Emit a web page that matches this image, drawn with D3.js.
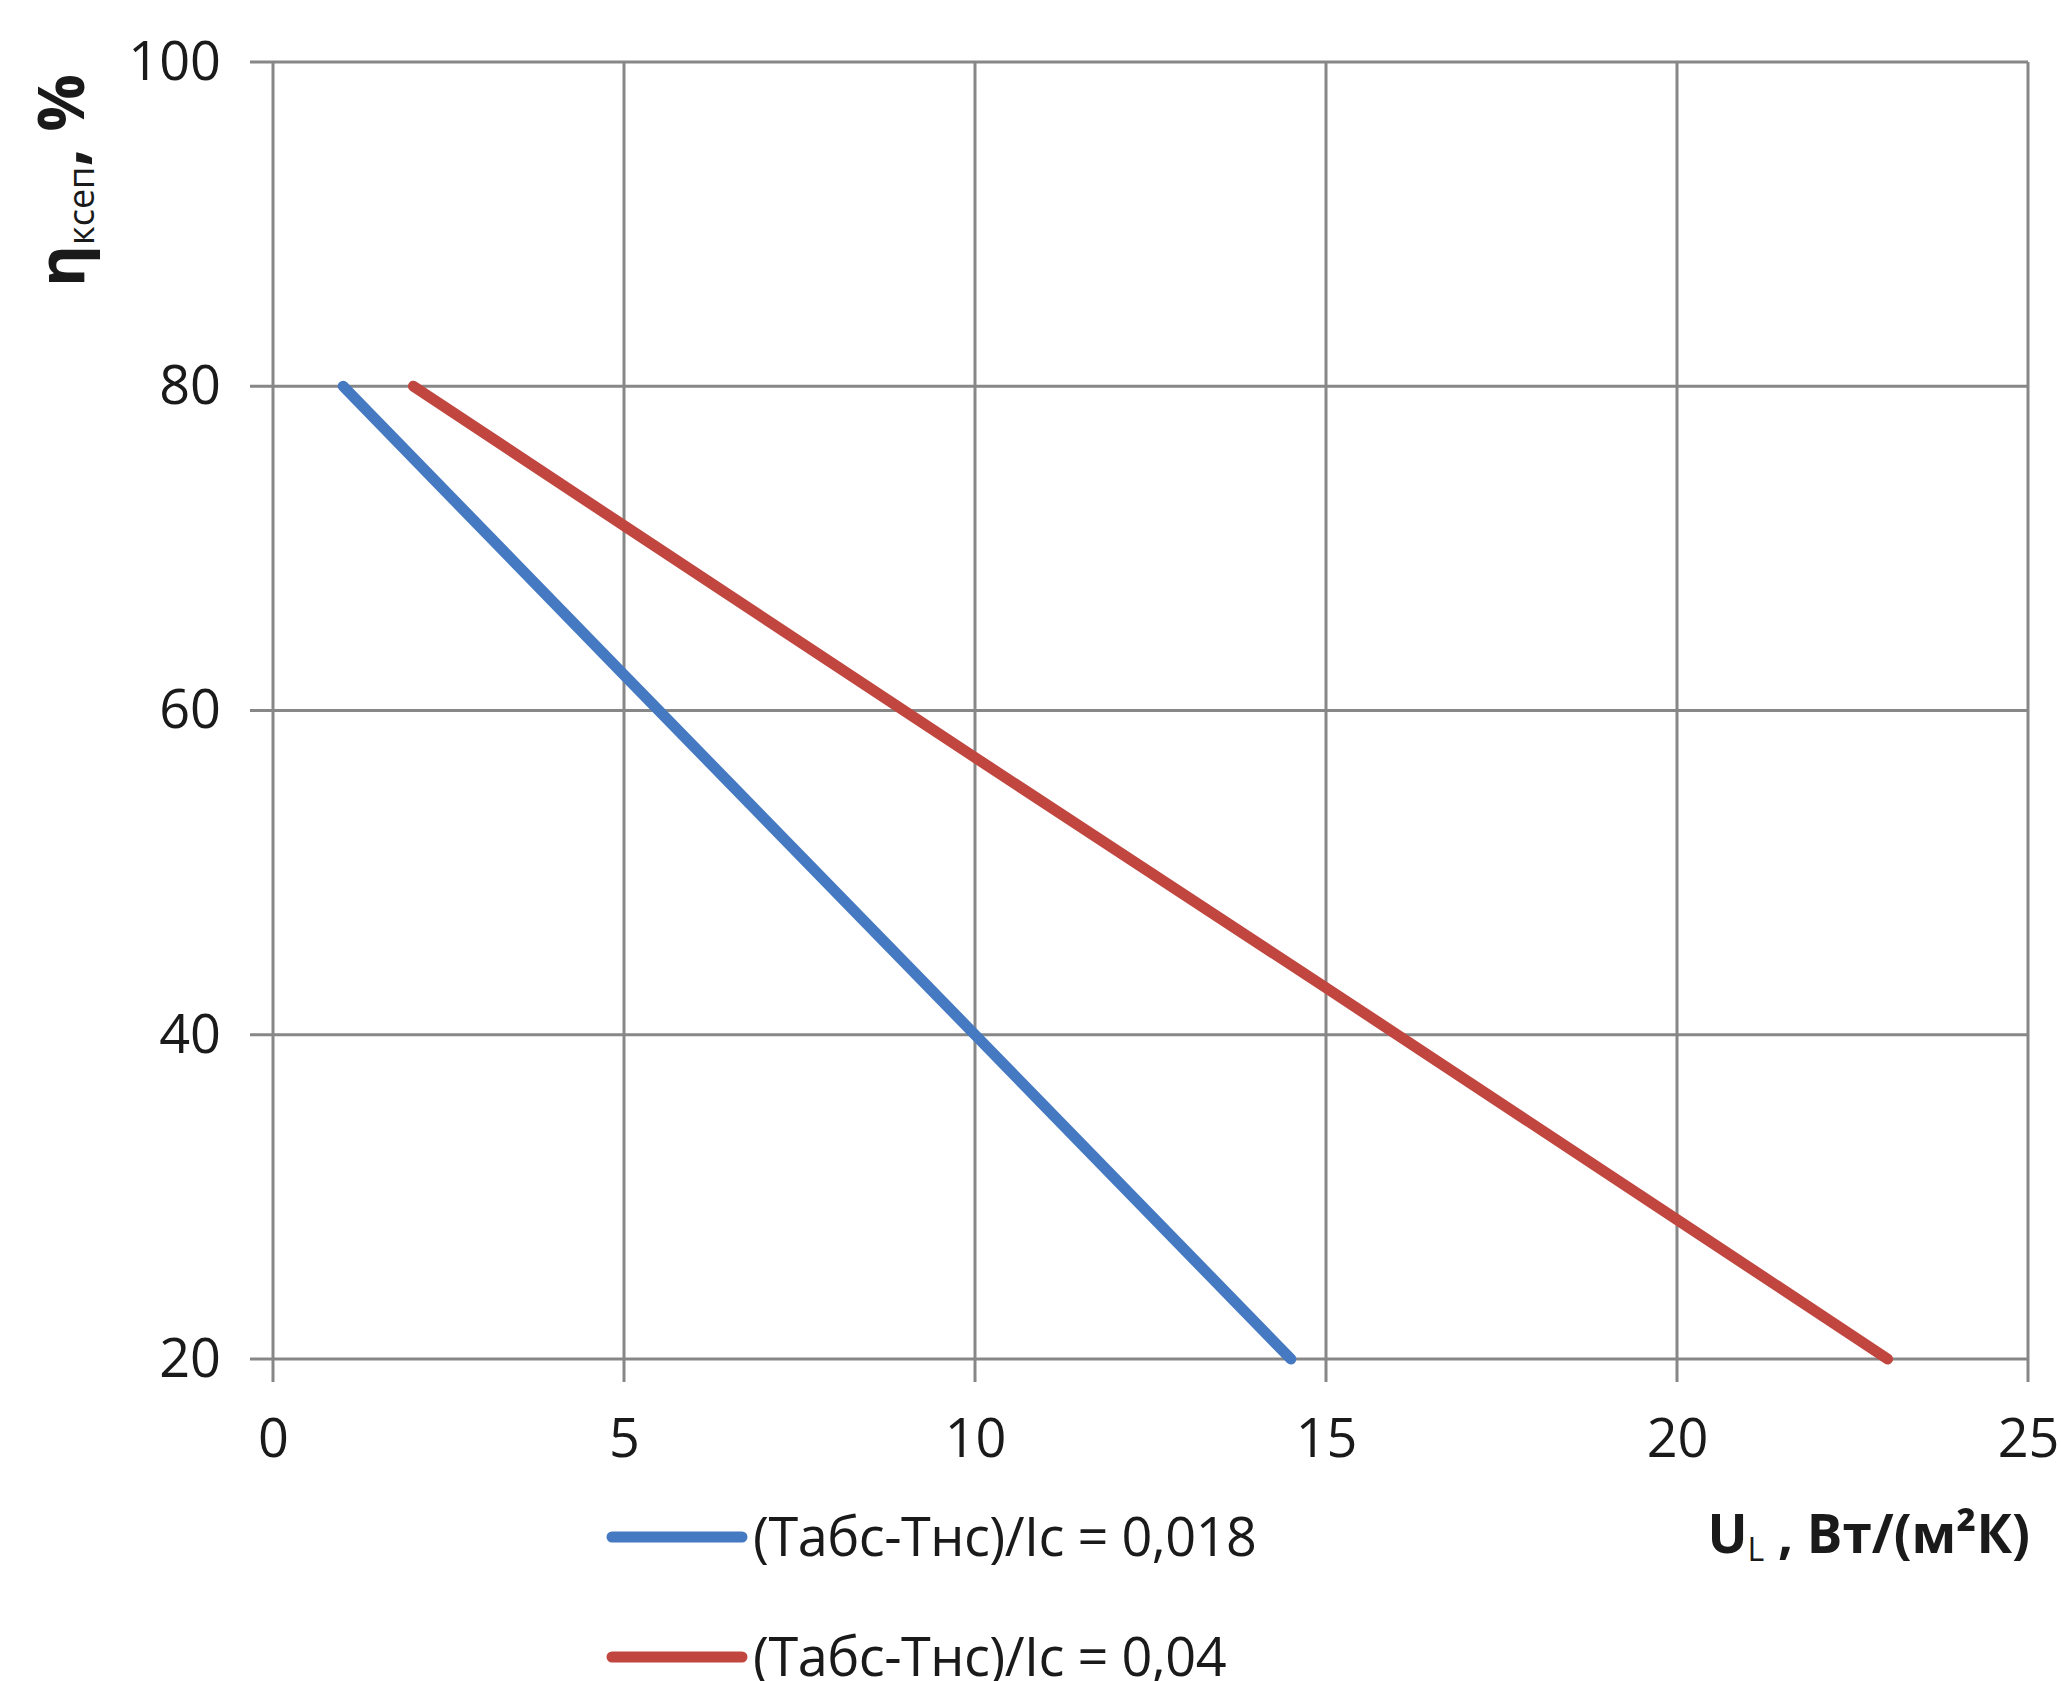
<!DOCTYPE html>
<html>
<head>
<meta charset="utf-8">
<script src="https://cdn.jsdelivr.net/npm/d3@7"></script>
<style>
  body { margin: 0; background: #fff; }
  svg { display: block; }
  text { font-family: "Open Sans", sans-serif; fill: #1a1a1a; }
</style>
</head>
<body>
<svg id="chart" width="2061" height="1681"></svg>
<script>
// axis ticks
const xTicks = [0, 5, 10, 15, 20, 25];
const yTicks = [20, 40, 60, 80, 100];

// series
const seriesNames = ["(Табс-Тнс)/Iс = 0,018", "(Табс-Тнс)/Iс = 0,04"];
const blueU   = [1, 5, 10, 14.5];
const blueEta = [80, 62.2, 40, 20];
const redU    = [2, 5, 10, 15, 20, 23];
const redEta  = [80, 71.4, 57.1, 42.9, 28.6, 20];
const colors  = ["#4579c1", "#c0463f"];

const margin = { left: 273, top: 62 };
const width = 1755, height = 1297;
const tickLen = 23;
const gridColor = "#878787";

const svg = d3.select("#chart");
const g = svg.append("g").attr("transform", `translate(${margin.left},${margin.top})`);

const x = d3.scaleLinear().domain([0, 25]).range([0, width]);
const y = d3.scaleLinear().domain([20, 100]).range([height, 0]);

// grid lines (they run past the axes as tick marks)
g.selectAll(".vgrid").data(xTicks).join("line")
    .attr("x1", d => x(d)).attr("x2", d => x(d))
    .attr("y1", 0).attr("y2", height + tickLen)
    .attr("stroke", gridColor).attr("stroke-width", 3);

g.selectAll(".hgrid").data(yTicks).join("line")
    .attr("x1", -tickLen).attr("x2", width)
    .attr("y1", d => y(d)).attr("y2", d => y(d))
    .attr("stroke", gridColor).attr("stroke-width", 3);

// tick labels via d3 axes
const xAxis = g.append("g")
    .attr("transform", `translate(0,${height})`)
    .call(d3.axisBottom(x).tickValues(xTicks).tickSize(0).tickPadding(60));
const yAxis = g.append("g")
    .call(d3.axisLeft(y).tickValues(yTicks).tickSize(0).tickPadding(52));
[xAxis, yAxis].forEach(a => {
    a.select(".domain").remove();
    a.selectAll("text").attr("font-size", 54).attr("fill", "#1a1a1a")
        .style("font-family", '"Open Sans", sans-serif');
});

// series lines
const line = d3.line().x(d => x(d[0])).y(d => y(d[1]));
const series = [d3.zip(blueU, blueEta), d3.zip(redU, redEta)];
g.selectAll(".series").data(series).join("path")
    .attr("d", line)
    .attr("fill", "none")
    .attr("stroke", (d, i) => colors[i])
    .attr("stroke-width", 11)
    .attr("stroke-linecap", "round")
    .attr("stroke-linejoin", "round");

// legend
const legendY = [1537, 1657];
const legend = svg.selectAll(".legend").data(seriesNames).join("g")
    .attr("transform", (d, i) => `translate(612,${legendY[i]})`);
legend.append("line")
    .attr("x1", 0).attr("x2", 130)
    .attr("stroke", (d, i) => colors[i])
    .attr("stroke-width", 11)
    .attr("stroke-linecap", "round");
legend.append("text")
    .attr("x", 141).attr("dy", "0.35em")
    .attr("font-size", 54)
    .attr("letter-spacing", -0.5)
    .text(d => d);

// x axis title
const xt = svg.append("text")
    .attr("x", 2030).attr("y", 1553)
    .attr("text-anchor", "end")
    .attr("font-size", 53).attr("font-weight", "bold");
xt.append("tspan").text("U");
xt.append("tspan").attr("font-size", 32).attr("font-weight", "normal").attr("dy", 8).text("L");
xt.append("tspan").attr("dy", -8).text(" , Вт/(м²К)");

// y axis title
const yt = svg.append("text")
    .attr("transform", "translate(84,287) rotate(-90)")
    .attr("font-size", 64).attr("font-weight", "bold");
yt.append("tspan").text("η");
yt.append("tspan").attr("font-size", 36).attr("font-weight", "normal").attr("dy", 10).text("ксеп");
yt.append("tspan").attr("dy", -10).text(", %");
</script>
</body>
</html>
